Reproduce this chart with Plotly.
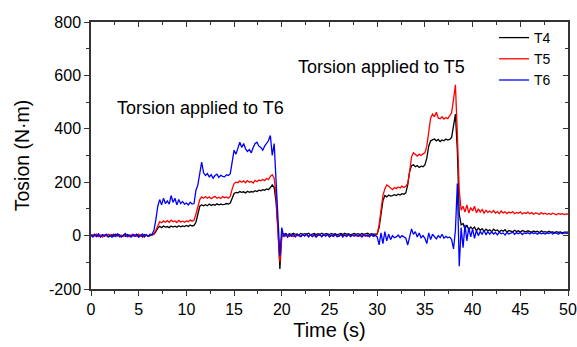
import plotly.graph_objects as go

# sampling step of the recorded signals (s)
TIME_STEP = 0.2
N_SAMPLES = 251
time_s = [round(i * TIME_STEP, 1) for i in range(N_SAMPLES)]

T4 = [
    3, -2, 5, -4, 2, -3, 4, -1, 3, -5,
    -2, 4, -3, 5, -1, 3, -4, 2, -3, 4,
    1, -4, 3, -2, 5, -3, 2, -5, 4, -1,
    -3, 0, 2, 5, 15, 28, 35, 30, 36, 32,
    34, 30, 36, 32, 35, 31, 37, 33, 36, 34,
    38, 34, 40, 36, 38, 50, 80, 110, 115, 112,
    116, 112, 118, 113, 117, 114, 119, 115, 118, 116,
    117, 120, 118, 122, 140, 158, 162, 160, 165, 162,
    164, 160, 166, 162, 165, 163, 168, 165, 170, 168,
    172, 170, 175, 172, 180, 190, 180, 125, 20, -125,
    10, 5, 8, 3, 7, 4, 9, 5, 6, 3,
    8, 4, 7, 5, 9, 3, 6, 8, 4, 7,
    5, 9, 3, 7, 6, 4, 8, 5, 7, 3,
    6, 8, 4, 9, 5, 7, 3, 6, 8, 5,
    7, 4, 8, 5, 6, 9, 4, 7, 5, 6,
    6, 30, 85, 130, 150, 145, 152, 148, 150, 153,
    150, 155, 152, 157, 155, 160, 190, 240, 262, 265,
    258, 262, 255, 260, 258, 265, 290, 335, 355, 358,
    362, 355, 360, 352, 358, 355, 362, 358, 360, 368,
    420, 455, 320, 80, 40, 45, 25, 40, 22, 32,
    25, 32, 18, 28, 20, 26, 16, 24, 18, 22,
    15, 24, 18, 21, 14, 20, 16, 22, 13, 19,
    17, 14, 20, 15, 18, 13, 19, 16, 14, 18,
    15, 12, 17, 14, 16, 11, 18, 13, 15, 12,
    16, 13, 14, 11, 15, 12, 14, 10, 13, 12,
    13,
]

T5 = [
    -3, 4, -2, 6, -4, 2, -5, 3, -1, 5,
    3, -3, 5, -2, 4, -5, 2, -3, 6, -2,
    -4, 3, -2, 4, -3, 5, -1, 2, -5, 3,
    -2, 3, 2, 8, 20, 40, 52, 48, 55, 50,
    56, 50, 58, 52, 55, 49, 57, 51, 54, 50,
    55, 52, 58, 54, 58, 80, 105, 135, 145, 140,
    146, 140, 145, 138, 143, 147, 140, 144, 139, 146,
    142, 145, 140, 148, 175, 195, 200, 198, 205, 200,
    205, 198, 206, 200, 203, 197, 207, 202, 208, 205,
    210, 206, 214, 210, 222, 228, 215, 150, 20, -100,
    -5, 3, -2, 4, -3, 2, -4, 3, -1, 2,
    -3, 2, -1, 4, -2, 3, -4, 1, -2, 3,
    2, -3, 4, -1, 3, -2, 1, -3, 2, -1,
    -2, 3, -1, 2, -3, 4, -2, 1, 3, -2,
    1, -2, 3, -1, 2, -3, 1, 3, -2, 2,
    5, 40, 100, 150, 175, 190, 185, 178, 172, 180,
    176, 182, 178, 185, 180, 185, 195, 240, 295, 310,
    302, 298, 305, 300, 306, 310, 335, 395, 440, 455,
    445, 462, 440, 438, 445, 436, 442, 438, 448, 460,
    510, 565, 380, 170, 95, 110, 88, 115, 85, 105,
    92, 110, 85, 100, 88, 98, 84, 95, 87, 92,
    86, 94, 84, 90, 83, 92, 85, 89, 82, 88,
    85, 90, 82, 87, 84, 89, 81, 86, 83, 88,
    82, 86, 80, 85, 83, 79, 86, 81, 84, 80,
    83, 79, 84, 81, 78, 83, 80, 82, 79, 81,
    80,
]

T6 = [
    2, -5, 4, -3, 6, -6, 3, -2, 5, -4,
    1, -6, 4, -3, 7, -2, -5, 3, 8, -4,
    2, -5, 5, -3, 4, -6, 2, 6, -4, 3,
    -3, 5, 4, 20, 60, 110, 135, 115, 140, 120,
    130, 118, 150, 125, 140, 115, 135, 120, 128, 118,
    122, 115, 125, 118, 120, 170, 190, 240, 275, 235,
    225, 232, 220, 228, 215, 225, 230, 218, 226, 222,
    220, 228, 225, 232, 280, 320, 305, 330, 350, 330,
    345, 325, 315, 322, 310, 330, 345, 350, 335, 330,
    320, 335, 345, 355, 375, 300, 345, 200, 30, -75,
    30, -5, 8, -6, 4, -3, 6, -5, 3, -2,
    -4, 5, -2, 6, -5, 3, -3, 4, -6, 2,
    3, -4, 5, -2, 4, -5, 2, -3, 6, -4,
    -2, 4, -5, 3, -3, 5, -4, 2, -2, 4,
    -3, 2, -5, 4, -2, 3, -4, 5, -3, 1,
    -5, -35, 10, -30, 15, -20, 5, -15, 0, -8,
    -5, 2, -8, 0, -6, -10, -35, -5, 25, 5,
    15, -5, 10, -8, 0, -10, -30, 10, -15, 5,
    -5, -12, 0, -8, 5, -10, -3, -8, -5, -15,
    -50, 20, 195, -115, 30, -45, 40, -20, 30, -5,
    25, -10, 20, 0, 15, 5, 20, 3, 15, 5,
    14, 6, 12, 3, 13, 7, 10, 2, 12, 6,
    9, 13, 5, 11, 7, 12, 4, 10, 8, 11,
    6, 12, 8, 10, 5, 11, 7, 9, 6, 10,
    8, 12, 6, 10, 9, 5, 11, 7, 10, 8,
    9,
]

SERIES_NAMES = ["T4", "T5", "T6"]
SERIES_COLORS = ["#000000", "#ff0000", "#0000ff"]

X_TICKS = [0, 5, 10, 15, 20, 25, 30, 35, 40, 45, 50]
X_TICK_TEXT = ["0", "5", "10", "15", "20", "25", "30", "35", "40", "45", "50"]
Y_TICKS = [-200, 0, 200, 400, 600, 800]
Y_TICK_TEXT = ["-200", "0", "200", "400", "600", "800"]

FONT = "Liberation Sans, Arial, sans-serif"
AXIS_COLOR = "#333333"

fig = go.Figure()
for name, vals, col in zip(SERIES_NAMES, [T4, T5, T6], SERIES_COLORS):
    fig.add_trace(go.Scatter(x=time_s, y=vals, mode="lines", name=name,
                             line=dict(color=col, width=1.3)))

# empty trace to bind the mirrored (top/right) axes
fig.add_trace(go.Scatter(x=[], y=[], xaxis="x2", yaxis="y2", showlegend=False))

fig.add_annotation(x=11.5, y=478, text="Torsion applied to T6", showarrow=False,
                   font=dict(family=FONT, size=18, color="#000"))
fig.add_annotation(x=30.4, y=631, text="Torsion applied to T5", showarrow=False,
                   font=dict(family=FONT, size=18, color="#000"))

fig.update_layout(
    width=577, height=347,
    margin=dict(l=91, r=9, t=22, b=58, autoexpand=False),
    paper_bgcolor="white", plot_bgcolor="white",
    font=dict(family=FONT, color="#000"),
    showlegend=True,
    legend=dict(x=0.845, y=1.0, xanchor="left", yanchor="top",
                bgcolor="rgba(0,0,0,0)", font=dict(family=FONT, size=14),
                tracegroupgap=0, itemwidth=30),
    xaxis=dict(range=[0, 50], tickvals=X_TICKS, ticktext=X_TICK_TEXT, ticks="outside", ticklen=5,
               tickwidth=1.2, tickcolor=AXIS_COLOR, showline=True, mirror=True,
               linecolor=AXIS_COLOR, linewidth=1.5, showgrid=False, zeroline=False,
               automargin=False, tickfont=dict(family=FONT, size=16),
               minor=dict(ticks="outside", ticklen=3, dtick=2.5, tick0=0,
                          tickcolor=AXIS_COLOR, tickwidth=1.2, showgrid=False),
               title=dict(text="Time (s)", font=dict(family=FONT, size=20), standoff=6)),
    yaxis=dict(range=[-200, 800], tickvals=Y_TICKS, ticktext=Y_TICK_TEXT, ticks="outside", ticklen=5,
               tickwidth=1.2, tickcolor=AXIS_COLOR, showline=True, mirror=True,
               linecolor=AXIS_COLOR, linewidth=1.5, showgrid=False, zeroline=False,
               automargin=False, tickfont=dict(family=FONT, size=16),
               minor=dict(ticks="outside", ticklen=3, dtick=100, tick0=0,
                          tickcolor=AXIS_COLOR, tickwidth=1.2, showgrid=False),
               title=dict(text="Tosion (N·m)", font=dict(family=FONT, size=19.5), standoff=14)),
    xaxis2=dict(range=[0, 50], overlaying="x", side="top", anchor="y", tickvals=X_TICKS,
                ticks="inside", ticklen=5, tickwidth=1.2, tickcolor=AXIS_COLOR,
                showticklabels=False, showline=False, showgrid=False, zeroline=False,
                minor=dict(ticks="inside", ticklen=3, dtick=2.5, tick0=0,
                           tickcolor=AXIS_COLOR, tickwidth=1.2, showgrid=False)),
    yaxis2=dict(range=[-200, 800], overlaying="y", side="right", anchor="x", tickvals=Y_TICKS,
                ticks="inside", ticklen=5, tickwidth=1.2, tickcolor=AXIS_COLOR,
                showticklabels=False, showline=False, showgrid=False, zeroline=False,
                minor=dict(ticks="inside", ticklen=3, dtick=100, tick0=0,
                           tickcolor=AXIS_COLOR, tickwidth=1.2, showgrid=False)),
)

fig.write_html("out.html", config={"displayModeBar": False},
               post_script="document.body.style.margin='0';")
